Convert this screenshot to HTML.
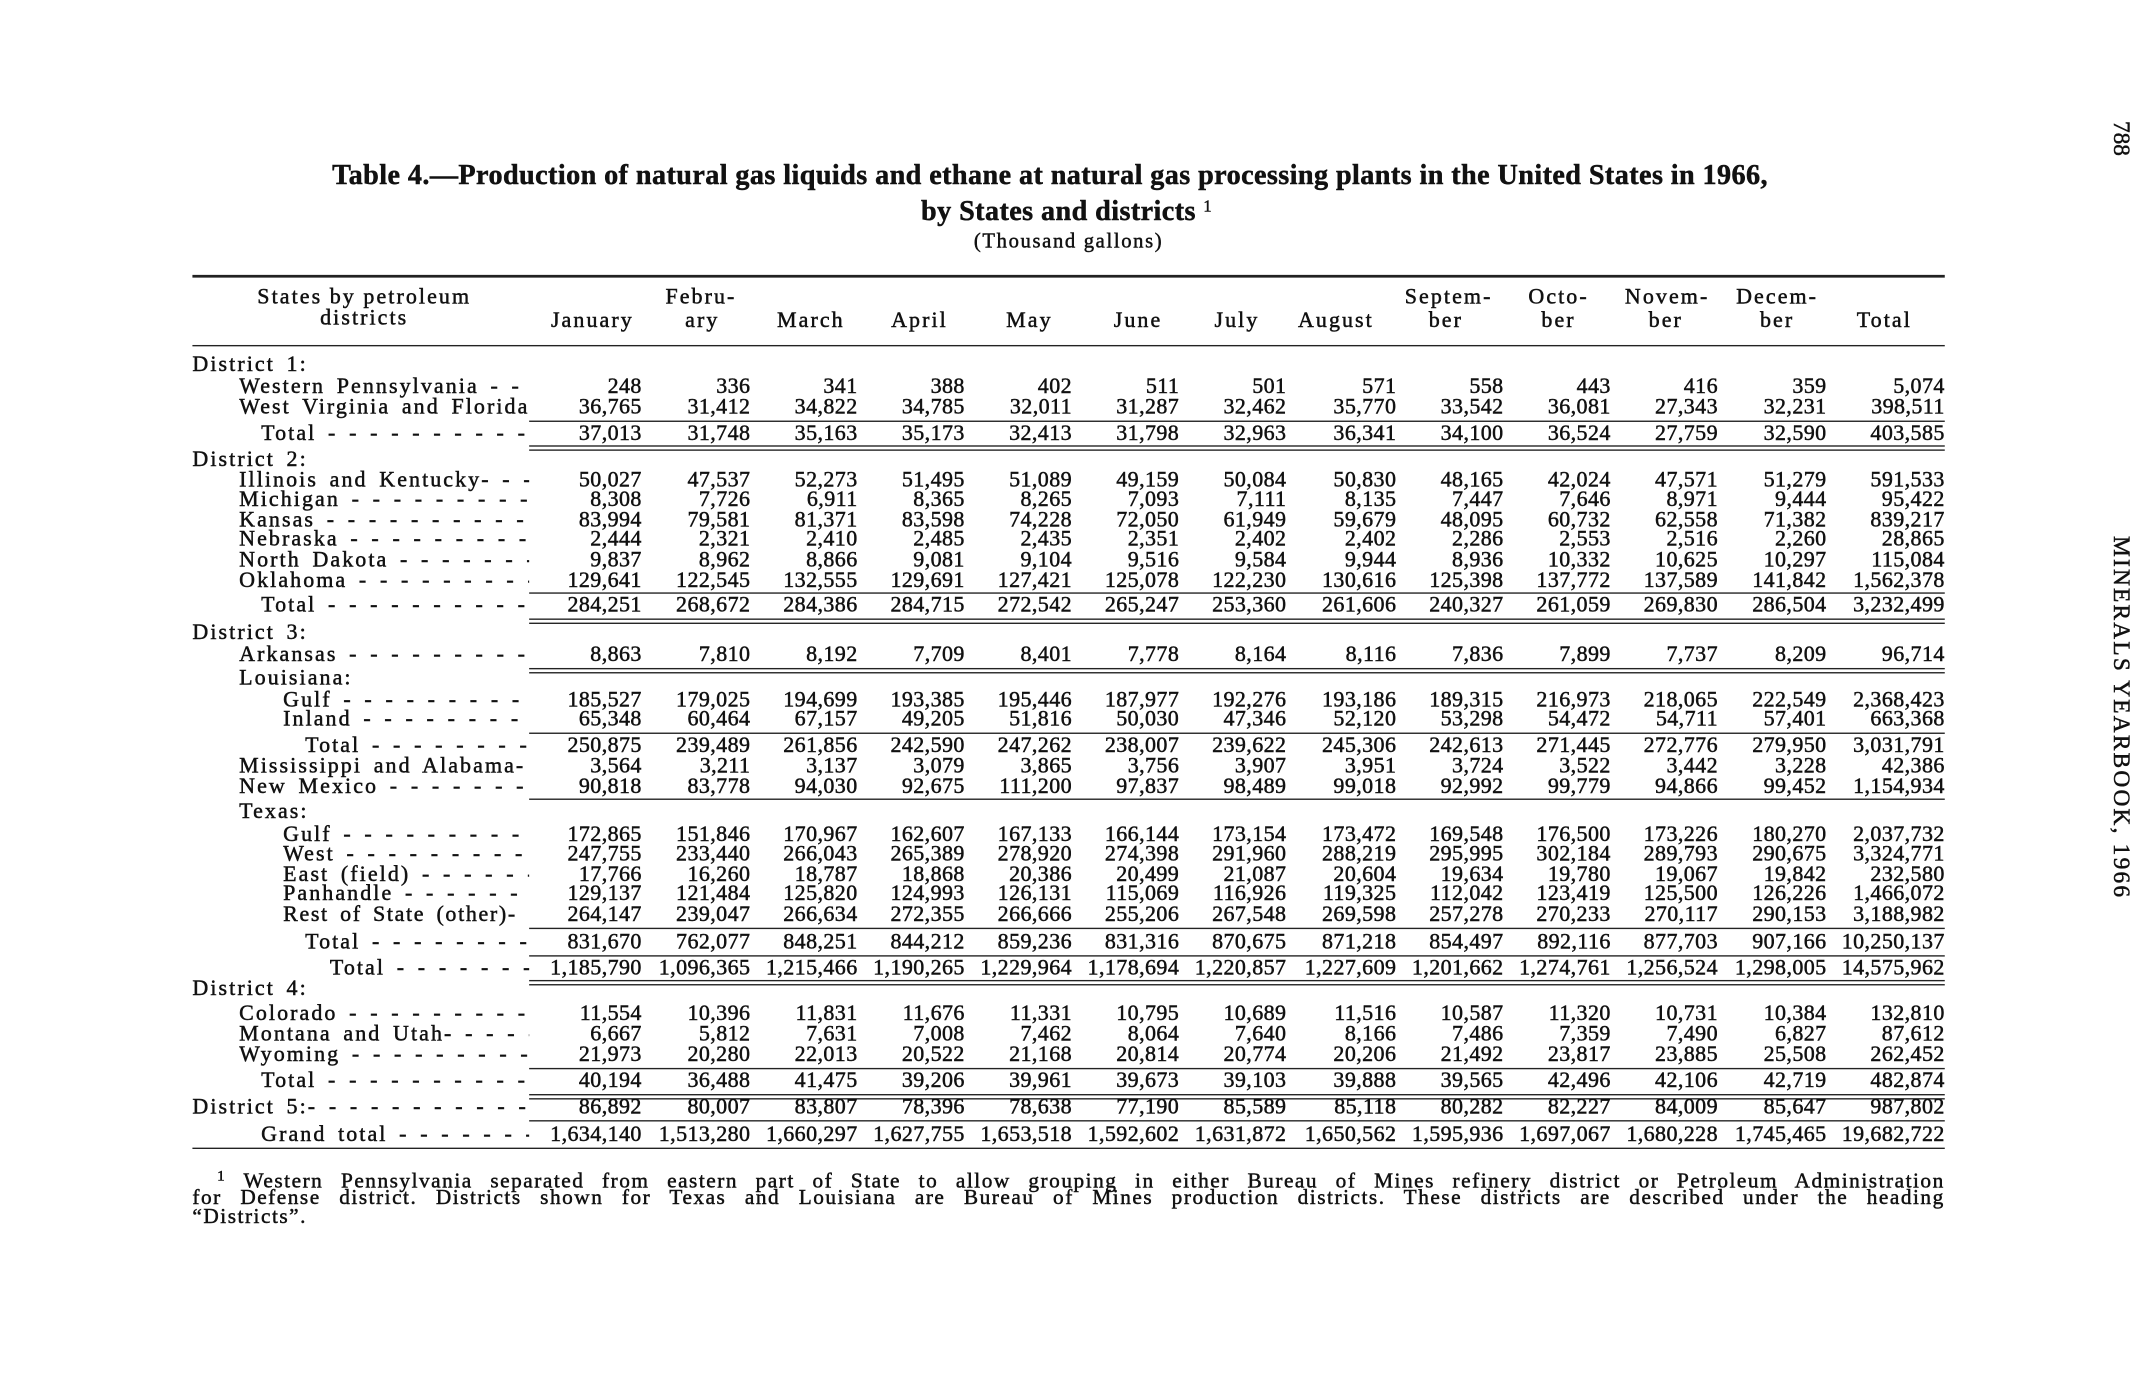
<!DOCTYPE html>
<html><head><meta charset="utf-8"><style>
html,body{margin:0;padding:0;background:#fff;}
body{width:2155px;height:1380px;overflow:hidden;position:relative;}
#w{position:absolute;left:0;top:0;width:1568px;height:1004px;transform:scale(1.3744);transform-origin:0 0;font-family:"Liberation Serif",serif;color:#111;-webkit-text-stroke:0.35px #111;}
.r{position:absolute;left:0;width:1568px;height:16px;line-height:16px;font-size:16px;white-space:nowrap;}
.l{position:absolute;overflow:hidden;white-space:nowrap;letter-spacing:1.5px;word-spacing:3px;}
.n{position:absolute;width:100px;text-align:right;letter-spacing:0.3px;}
.hc{position:absolute;width:120px;text-align:center;letter-spacing:1.5px;}
.c1{left:367px}.c2{left:446px}.c3{left:524px}.c4{left:602px}.c5{left:680px}.c6{left:758px}.c7{left:836px}.c8{left:916px}.c9{left:994px}.c10{left:1072px}.c11{left:1150px}.c12{left:1229px}.c13{left:1315px}
.h{position:absolute;background:#222;height:1px;}
.t{position:absolute;white-space:nowrap;}
.fn{position:absolute;left:140px;width:1275px;font-size:15.5px;letter-spacing:1.1px;word-spacing:2px;text-align:justify;text-align-last:justify;white-space:nowrap;line-height:15px;}
</style></head><body><div id="w">
<div class="t" style="left:0;width:1528px;text-align:center;top:117px;font-size:20.5px;font-weight:bold;letter-spacing:0.3px;">Table 4.—Production of natural gas liquids and ethane at natural gas processing plants in the United States in 1966,</div>
<div class="t" style="left:0;width:1552px;text-align:center;top:143px;font-size:20.5px;font-weight:bold;letter-spacing:0.3px;">by States and districts <span style="font-size:12px;vertical-align:6px;font-weight:normal">1</span></div>
<div class="t" style="left:0;width:1555px;text-align:center;top:168px;font-size:15px;letter-spacing:1.2px;">(Thousand gallons)</div>
<div class="t" style="top:88px;font-size:17px;transform:rotate(90deg);transform-origin:0 0;left:1553px;">788</div>
<div class="t" style="left:1553px;top:390px;font-size:17px;transform:rotate(90deg);transform-origin:0 0;letter-spacing:1.6px;">MINERALS YEARBOOK, 1966</div>

<div class="h" style="left:140px;width:1275px;top:200px;height:2px;"></div>
<div class="r" style="top:209px"><span class="hc" style="left:165px;width:200px">States by petroleum</span><span class="hc" style="left:450px">Febru-</span><span class="hc" style="left:994px">Septem-</span><span class="hc" style="left:1074px">Octo-</span><span class="hc" style="left:1153px">Novem-</span><span class="hc" style="left:1233px">Decem-</span></div>
<div class="r" style="top:224px"><span class="hc" style="left:165px;width:200px">districts</span></div>
<div class="r" style="top:226px">
<span class="hc" style="left:371px">January</span><span class="hc" style="left:451px">ary</span><span class="hc" style="left:530px">March</span><span class="hc" style="left:609px">April</span><span class="hc" style="left:689px">May</span><span class="hc" style="left:768px">June</span><span class="hc" style="left:840px">July</span><span class="hc" style="left:912px">August</span><span class="hc" style="left:992px">ber</span><span class="hc" style="left:1074px">ber</span><span class="hc" style="left:1152px">ber</span><span class="hc" style="left:1233px">ber</span><span class="hc" style="left:1311px">Total</span></div>
<div class="h" style="left:140px;width:1275px;top:251px;"></div>

<div class="r" style="top:258px"><span class="l" style="left:140px">District 1:</span></div>
<div class="r" style="top:274px"><span class="l" style="left:174px;width:211px">Western Pennsylvania ‐ ‐ ‐ ‐ ‐ ‐ ‐ ‐ ‐ ‐ ‐ ‐ ‐</span><span class="n c1">248</span><span class="n c2">336</span><span class="n c3">341</span><span class="n c4">388</span><span class="n c5">402</span><span class="n c6">511</span><span class="n c7">501</span><span class="n c8">571</span><span class="n c9">558</span><span class="n c10">443</span><span class="n c11">416</span><span class="n c12">359</span><span class="n c13">5,074</span></div>
<div class="r" style="top:289px"><span class="l" style="left:174px;width:213px">West Virginia and Florida</span><span class="n c1">36,765</span><span class="n c2">31,412</span><span class="n c3">34,822</span><span class="n c4">34,785</span><span class="n c5">32,011</span><span class="n c6">31,287</span><span class="n c7">32,462</span><span class="n c8">35,770</span><span class="n c9">33,542</span><span class="n c10">36,081</span><span class="n c11">27,343</span><span class="n c12">32,231</span><span class="n c13">398,511</span></div>
<div class="h" style="left:385px;width:1030px;top:306px;"></div>
<div class="r" style="top:308px"><span class="l" style="left:190px;width:195px">Total - - - - - - - - - - - - - - - - - - - - - - - - - - - - - - - - - - - - - - - -</span><span class="n c1">37,013</span><span class="n c2">31,748</span><span class="n c3">35,163</span><span class="n c4">35,173</span><span class="n c5">32,413</span><span class="n c6">31,798</span><span class="n c7">32,963</span><span class="n c8">36,341</span><span class="n c9">34,100</span><span class="n c10">36,524</span><span class="n c11">27,759</span><span class="n c12">32,590</span><span class="n c13">403,585</span></div>
<div class="h" style="left:385px;width:1030px;top:324px;"></div><div class="h" style="left:385px;width:1030px;top:327px;"></div>

<div class="r" style="top:327px"><span class="l" style="left:140px">District 2:</span></div>
<div class="r" style="top:342px"><span class="l" style="left:174px;width:211px">Illinois and Kentucky- - - - - - - - - - - - - - - -</span><span class="n c1">50,027</span><span class="n c2">47,537</span><span class="n c3">52,273</span><span class="n c4">51,495</span><span class="n c5">51,089</span><span class="n c6">49,159</span><span class="n c7">50,084</span><span class="n c8">50,830</span><span class="n c9">48,165</span><span class="n c10">42,024</span><span class="n c11">47,571</span><span class="n c12">51,279</span><span class="n c13">591,533</span></div>
<div class="r" style="top:356px"><span class="l" style="left:174px;width:211px">Michigan - - - - - - - - - - - - - - - - - - - - - - - - - - - - - - - - - - - -</span><span class="n c1">8,308</span><span class="n c2">7,726</span><span class="n c3">6,911</span><span class="n c4">8,365</span><span class="n c5">8,265</span><span class="n c6">7,093</span><span class="n c7">7,111</span><span class="n c8">8,135</span><span class="n c9">7,447</span><span class="n c10">7,646</span><span class="n c11">8,971</span><span class="n c12">9,444</span><span class="n c13">95,422</span></div>
<div class="r" style="top:371px"><span class="l" style="left:174px;width:211px">Kansas - - - - - - - - - - - - - - - - - - - - - - - - - - - - - - - - - - - - - -</span><span class="n c1">83,994</span><span class="n c2">79,581</span><span class="n c3">81,371</span><span class="n c4">83,598</span><span class="n c5">74,228</span><span class="n c6">72,050</span><span class="n c7">61,949</span><span class="n c8">59,679</span><span class="n c9">48,095</span><span class="n c10">60,732</span><span class="n c11">62,558</span><span class="n c12">71,382</span><span class="n c13">839,217</span></div>
<div class="r" style="top:385px"><span class="l" style="left:174px;width:211px">Nebraska - - - - - - - - - - - - - - - - - - - - - - - - - - - - - - - - - - - -</span><span class="n c1">2,444</span><span class="n c2">2,321</span><span class="n c3">2,410</span><span class="n c4">2,485</span><span class="n c5">2,435</span><span class="n c6">2,351</span><span class="n c7">2,402</span><span class="n c8">2,402</span><span class="n c9">2,286</span><span class="n c10">2,553</span><span class="n c11">2,516</span><span class="n c12">2,260</span><span class="n c13">28,865</span></div>
<div class="r" style="top:400px"><span class="l" style="left:174px;width:211px">North Dakota - - - - - - - - - - - - - - - - - - - - - - - - - - - - - -</span><span class="n c1">9,837</span><span class="n c2">8,962</span><span class="n c3">8,866</span><span class="n c4">9,081</span><span class="n c5">9,104</span><span class="n c6">9,516</span><span class="n c7">9,584</span><span class="n c8">9,944</span><span class="n c9">8,936</span><span class="n c10">10,332</span><span class="n c11">10,625</span><span class="n c12">10,297</span><span class="n c13">115,084</span></div>
<div class="r" style="top:415px"><span class="l" style="left:174px;width:211px">Oklahoma - - - - - - - - - - - - - - - - - - - - - - - - - - - - - - - - - -</span><span class="n c1">129,641</span><span class="n c2">122,545</span><span class="n c3">132,555</span><span class="n c4">129,691</span><span class="n c5">127,421</span><span class="n c6">125,078</span><span class="n c7">122,230</span><span class="n c8">130,616</span><span class="n c9">125,398</span><span class="n c10">137,772</span><span class="n c11">137,589</span><span class="n c12">141,842</span><span class="n c13">1,562,378</span></div>
<div class="h" style="left:385px;width:1030px;top:431px;"></div>
<div class="r" style="top:433px"><span class="l" style="left:190px;width:195px">Total - - - - - - - - - - - - - - - - - - - - - - - - - - - - - - - - - - - - - - - -</span><span class="n c1">284,251</span><span class="n c2">268,672</span><span class="n c3">284,386</span><span class="n c4">284,715</span><span class="n c5">272,542</span><span class="n c6">265,247</span><span class="n c7">253,360</span><span class="n c8">261,606</span><span class="n c9">240,327</span><span class="n c10">261,059</span><span class="n c11">269,830</span><span class="n c12">286,504</span><span class="n c13">3,232,499</span></div>
<div class="h" style="left:385px;width:1030px;top:450px;"></div><div class="h" style="left:385px;width:1030px;top:453px;"></div>

<div class="r" style="top:453px"><span class="l" style="left:140px">District 3:</span></div>
<div class="r" style="top:469px"><span class="l" style="left:174px;width:211px">Arkansas - - - - - - - - - - - - - - - - - - - - - - - - - - - - - - - - - - - -</span><span class="n c1">8,863</span><span class="n c2">7,810</span><span class="n c3">8,192</span><span class="n c4">7,709</span><span class="n c5">8,401</span><span class="n c6">7,778</span><span class="n c7">8,164</span><span class="n c8">8,116</span><span class="n c9">7,836</span><span class="n c10">7,899</span><span class="n c11">7,737</span><span class="n c12">8,209</span><span class="n c13">96,714</span></div>
<div class="h" style="left:385px;width:1030px;top:486px;"></div><div class="h" style="left:385px;width:1030px;top:489px;"></div>
<div class="r" style="top:486px"><span class="l" style="left:174px">Louisiana:</span></div>
<div class="r" style="top:502px"><span class="l" style="left:206px;width:179px">Gulf - - - - - - - - - - - - - - - - - - - - - - - - - - - - - - - - - - - - - - - -</span><span class="n c1">185,527</span><span class="n c2">179,025</span><span class="n c3">194,699</span><span class="n c4">193,385</span><span class="n c5">195,446</span><span class="n c6">187,977</span><span class="n c7">192,276</span><span class="n c8">193,186</span><span class="n c9">189,315</span><span class="n c10">216,973</span><span class="n c11">218,065</span><span class="n c12">222,549</span><span class="n c13">2,368,423</span></div>
<div class="r" style="top:516px"><span class="l" style="left:206px;width:179px">Inland - - - - - - - - - - - - - - - - - - - - - - - - - - - - - - - - - - - - - -</span><span class="n c1">65,348</span><span class="n c2">60,464</span><span class="n c3">67,157</span><span class="n c4">49,205</span><span class="n c5">51,816</span><span class="n c6">50,030</span><span class="n c7">47,346</span><span class="n c8">52,120</span><span class="n c9">53,298</span><span class="n c10">54,472</span><span class="n c11">54,711</span><span class="n c12">57,401</span><span class="n c13">663,368</span></div>
<div class="h" style="left:385px;width:1030px;top:533px;"></div>
<div class="r" style="top:535px"><span class="l" style="left:222px;width:163px">Total - - - - - - - - - - - - - - - - - - - - - - - - - - - - - - - - - - - - - - - -</span><span class="n c1">250,875</span><span class="n c2">239,489</span><span class="n c3">261,856</span><span class="n c4">242,590</span><span class="n c5">247,262</span><span class="n c6">238,007</span><span class="n c7">239,622</span><span class="n c8">245,306</span><span class="n c9">242,613</span><span class="n c10">271,445</span><span class="n c11">272,776</span><span class="n c12">279,950</span><span class="n c13">3,031,791</span></div>
<div class="r" style="top:550px"><span class="l" style="left:174px;width:211px">Mississippi and Alabama- -</span><span class="n c1">3,564</span><span class="n c2">3,211</span><span class="n c3">3,137</span><span class="n c4">3,079</span><span class="n c5">3,865</span><span class="n c6">3,756</span><span class="n c7">3,907</span><span class="n c8">3,951</span><span class="n c9">3,724</span><span class="n c10">3,522</span><span class="n c11">3,442</span><span class="n c12">3,228</span><span class="n c13">42,386</span></div>
<div class="r" style="top:565px"><span class="l" style="left:174px;width:211px">New Mexico - - - - - - - - - - - - - - - - - - - - - - - - - - - - - - -</span><span class="n c1">90,818</span><span class="n c2">83,778</span><span class="n c3">94,030</span><span class="n c4">92,675</span><span class="n c5">111,200</span><span class="n c6">97,837</span><span class="n c7">98,489</span><span class="n c8">99,018</span><span class="n c9">92,992</span><span class="n c10">99,779</span><span class="n c11">94,866</span><span class="n c12">99,452</span><span class="n c13">1,154,934</span></div>
<div class="h" style="left:385px;width:1030px;top:581px;"></div>
<div class="r" style="top:583px"><span class="l" style="left:174px">Texas:</span></div>
<div class="r" style="top:600px"><span class="l" style="left:206px;width:179px">Gulf - - - - - - - - - - - - - - - - - - - - - - - - - - - - - - - - - - - - - - - -</span><span class="n c1">172,865</span><span class="n c2">151,846</span><span class="n c3">170,967</span><span class="n c4">162,607</span><span class="n c5">167,133</span><span class="n c6">166,144</span><span class="n c7">173,154</span><span class="n c8">173,472</span><span class="n c9">169,548</span><span class="n c10">176,500</span><span class="n c11">173,226</span><span class="n c12">180,270</span><span class="n c13">2,037,732</span></div>
<div class="r" style="top:614px"><span class="l" style="left:206px;width:179px">West - - - - - - - - - - - - - - - - - - - - - - - - - - - - - - - - - - - - - - -</span><span class="n c1">247,755</span><span class="n c2">233,440</span><span class="n c3">266,043</span><span class="n c4">265,389</span><span class="n c5">278,920</span><span class="n c6">274,398</span><span class="n c7">291,960</span><span class="n c8">288,219</span><span class="n c9">295,995</span><span class="n c10">302,184</span><span class="n c11">289,793</span><span class="n c12">290,675</span><span class="n c13">3,324,771</span></div>
<div class="r" style="top:629px"><span class="l" style="left:206px;width:179px">East (field) - - - - - - - - - - - - - - - - - - - -</span><span class="n c1">17,766</span><span class="n c2">16,260</span><span class="n c3">18,787</span><span class="n c4">18,868</span><span class="n c5">20,386</span><span class="n c6">20,499</span><span class="n c7">21,087</span><span class="n c8">20,604</span><span class="n c9">19,634</span><span class="n c10">19,780</span><span class="n c11">19,067</span><span class="n c12">19,842</span><span class="n c13">232,580</span></div>
<div class="r" style="top:643px"><span class="l" style="left:206px;width:179px">Panhandle - - - - - - - - - - - - - - - - - - - -</span><span class="n c1">129,137</span><span class="n c2">121,484</span><span class="n c3">125,820</span><span class="n c4">124,993</span><span class="n c5">126,131</span><span class="n c6">115,069</span><span class="n c7">116,926</span><span class="n c8">119,325</span><span class="n c9">112,042</span><span class="n c10">123,419</span><span class="n c11">125,500</span><span class="n c12">126,226</span><span class="n c13">1,466,072</span></div>
<div class="r" style="top:658px"><span class="l" style="left:206px;width:180px;letter-spacing:1.2px">Rest of State (other)-</span><span class="n c1">264,147</span><span class="n c2">239,047</span><span class="n c3">266,634</span><span class="n c4">272,355</span><span class="n c5">266,666</span><span class="n c6">255,206</span><span class="n c7">267,548</span><span class="n c8">269,598</span><span class="n c9">257,278</span><span class="n c10">270,233</span><span class="n c11">270,117</span><span class="n c12">290,153</span><span class="n c13">3,188,982</span></div>
<div class="h" style="left:385px;width:1030px;top:675px;"></div>
<div class="r" style="top:678px"><span class="l" style="left:222px;width:163px">Total - - - - - - - - - - - - - - - - - - - - - - - - - - - - - - - - - - - - - - - -</span><span class="n c1">831,670</span><span class="n c2">762,077</span><span class="n c3">848,251</span><span class="n c4">844,212</span><span class="n c5">859,236</span><span class="n c6">831,316</span><span class="n c7">870,675</span><span class="n c8">871,218</span><span class="n c9">854,497</span><span class="n c10">892,116</span><span class="n c11">877,703</span><span class="n c12">907,166</span><span class="n c13">10,250,137</span></div>
<div class="h" style="left:385px;width:1030px;top:695px;"></div>
<div class="r" style="top:697px"><span class="l" style="left:240px;width:145px">Total - - - - - - - - - - - - - - - - - - - - - - - - - - - - - - - - - - - - - - - -</span><span class="n c1">1,185,790</span><span class="n c2">1,096,365</span><span class="n c3">1,215,466</span><span class="n c4">1,190,265</span><span class="n c5">1,229,964</span><span class="n c6">1,178,694</span><span class="n c7">1,220,857</span><span class="n c8">1,227,609</span><span class="n c9">1,201,662</span><span class="n c10">1,274,761</span><span class="n c11">1,256,524</span><span class="n c12">1,298,005</span><span class="n c13">14,575,962</span></div>
<div class="h" style="left:385px;width:1030px;top:713px;"></div><div class="h" style="left:385px;width:1030px;top:716px;"></div>

<div class="r" style="top:712px"><span class="l" style="left:140px">District 4:</span></div>
<div class="r" style="top:730px"><span class="l" style="left:174px;width:211px">Colorado - - - - - - - - - - - - - - - - - - - - - - - - - - - - - - - - - - - -</span><span class="n c1">11,554</span><span class="n c2">10,396</span><span class="n c3">11,831</span><span class="n c4">11,676</span><span class="n c5">11,331</span><span class="n c6">10,795</span><span class="n c7">10,689</span><span class="n c8">11,516</span><span class="n c9">10,587</span><span class="n c10">11,320</span><span class="n c11">10,731</span><span class="n c12">10,384</span><span class="n c13">132,810</span></div>
<div class="r" style="top:745px"><span class="l" style="left:174px;width:211px">Montana and Utah- - - - - - - - - - -</span><span class="n c1">6,667</span><span class="n c2">5,812</span><span class="n c3">7,631</span><span class="n c4">7,008</span><span class="n c5">7,462</span><span class="n c6">8,064</span><span class="n c7">7,640</span><span class="n c8">8,166</span><span class="n c9">7,486</span><span class="n c10">7,359</span><span class="n c11">7,490</span><span class="n c12">6,827</span><span class="n c13">87,612</span></div>
<div class="r" style="top:760px"><span class="l" style="left:174px;width:211px">Wyoming - - - - - - - - - - - - - - - - - - - - - - - - - - - - - - - - - - -</span><span class="n c1">21,973</span><span class="n c2">20,280</span><span class="n c3">22,013</span><span class="n c4">20,522</span><span class="n c5">21,168</span><span class="n c6">20,814</span><span class="n c7">20,774</span><span class="n c8">20,206</span><span class="n c9">21,492</span><span class="n c10">23,817</span><span class="n c11">23,885</span><span class="n c12">25,508</span><span class="n c13">262,452</span></div>
<div class="h" style="left:385px;width:1030px;top:777px;"></div>
<div class="r" style="top:779px"><span class="l" style="left:190px;width:195px">Total - - - - - - - - - - - - - - - - - - - - - - - - - - - - - - - - - - - - - - - -</span><span class="n c1">40,194</span><span class="n c2">36,488</span><span class="n c3">41,475</span><span class="n c4">39,206</span><span class="n c5">39,961</span><span class="n c6">39,673</span><span class="n c7">39,103</span><span class="n c8">39,888</span><span class="n c9">39,565</span><span class="n c10">42,496</span><span class="n c11">42,106</span><span class="n c12">42,719</span><span class="n c13">482,874</span></div>
<div class="h" style="left:385px;width:1030px;top:796px;"></div><div class="h" style="left:385px;width:1030px;top:799px;"></div>
<div class="r" style="top:798px"><span class="l" style="left:140px;width:245px">District 5:- - - - - - - - - - - - - - - - - - - - - - - - - - - - - - - - - - - - - - - - - - - - - -</span><span class="n c1">86,892</span><span class="n c2">80,007</span><span class="n c3">83,807</span><span class="n c4">78,396</span><span class="n c5">78,638</span><span class="n c6">77,190</span><span class="n c7">85,589</span><span class="n c8">85,118</span><span class="n c9">80,282</span><span class="n c10">82,227</span><span class="n c11">84,009</span><span class="n c12">85,647</span><span class="n c13">987,802</span></div>
<div class="h" style="left:385px;width:1030px;top:815px;"></div>
<div class="r" style="top:818px"><span class="l" style="left:190px;width:195px">Grand total - - - - - - - - - - - - - - - - - - - - - - - - - - - - - - - - -</span><span class="n c1">1,634,140</span><span class="n c2">1,513,280</span><span class="n c3">1,660,297</span><span class="n c4">1,627,755</span><span class="n c5">1,653,518</span><span class="n c6">1,592,602</span><span class="n c7">1,631,872</span><span class="n c8">1,650,562</span><span class="n c9">1,595,936</span><span class="n c10">1,697,067</span><span class="n c11">1,680,228</span><span class="n c12">1,745,465</span><span class="n c13">19,682,722</span></div>
<div class="h" style="left:140px;width:1275px;top:835px;"></div>

<div class="fn" style="top:849px;left:158px;width:1257px;"><span style="font-size:11px;vertical-align:5px">1</span> Western Pennsylvania separated from eastern part of State to allow grouping in either Bureau of Mines refinery district or Petroleum Administration</div>
<div class="fn" style="top:864px;">for Defense district. Districts shown for Texas and Louisiana are Bureau of Mines production districts. These districts are described under the heading</div>
<div class="fn" style="top:878px;text-align-last:left;">“Districts”.</div>
</div></body></html>
